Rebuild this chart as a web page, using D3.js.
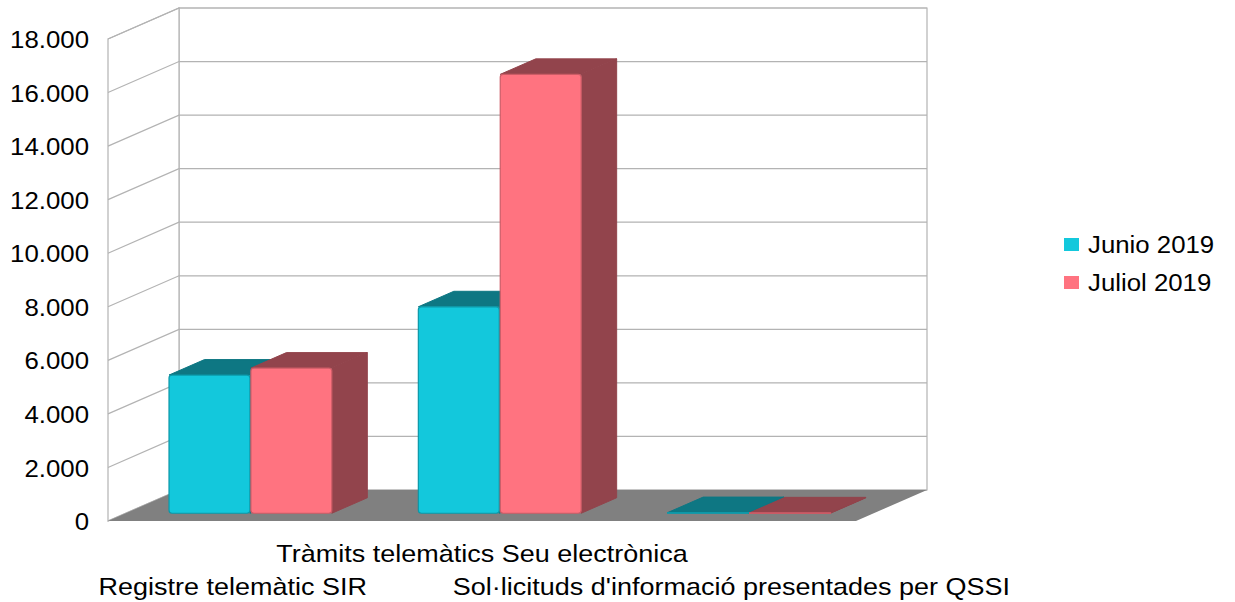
<!DOCTYPE html>
<html>
<head>
<meta charset="utf-8">
<script src="https://cdn.jsdelivr.net/npm/d3@7"></script>
<style>
  html, body { margin: 0; padding: 0; background: #fff; }
  svg { display: block; }
  text { font-family: "Liberation Sans", Arial, sans-serif; fill: #000; }
</style>
</head>
<body>
<svg id="chart" width="1235" height="602"></svg>
<script>
// ---- data ----
const categories = ["Registre telemàtic SIR", "Tràmits telemàtics Seu electrònica", "Sol·licituds d'informació presentades per QSSI"];
const series = ["Junio 2019", "Juliol 2019"];
const junio = [5160, 7710, 25];
const juliol = [5420, 16390, 15];
const yTicks = [0, 2000, 4000, 6000, 8000, 10000, 12000, 14000, 16000, 18000];
const labelRows = [1, 0, 1]; // staggered category labels

(function () {
// ---- style / layout ----
const colors = { "Junio 2019": "#13c8dc", "Juliol 2019": "#ff7380" };
const darkColors = { "Junio 2019": "#0e7783", "Juliol 2019": "#92444c" };
const edgeColors = { "Junio 2019": "#0c98a8", "Juliol 2019": "#cc5c66" };
const FS = 24, SX = 1.075, SXC = 1.125;
const depth = { dx: 71, dy: -31 };
const plotL = 108, plotR = 856, plotB = 521, plotT = 39;

const svg = d3.select("#chart");
const fmt = d3.formatLocale({ decimal: ",", thousands: ".", grouping: [3], currency: ["", "€"] }).format(",");

const y = d3.scaleLinear().domain([0, 18000]).range([plotB, plotT]);
const x0 = d3.scaleBand().domain(categories).range([plotL, plotR]);
const bw = x0.bandwidth();
const x1 = d3.scaleBand().domain(series).range([0.1735 * bw, 0.8265 * bw]).paddingInner(0.012);
const valueOf = { "Junio 2019": junio, "Juliol 2019": juliol };

const P = (x, yy, f) => [x + depth.dx * f, yy + depth.dy * f];
const poly = pts => pts.map(p => p.join(",")).join(" ");

const gridColor = "#b3b3b3";

const g = svg.append("g");
// back wall
g.append("polygon")
  .attr("points", poly([P(plotL, y(18000), 1), P(plotR, y(18000), 1), P(plotR, y(0), 1), P(plotL, y(0), 1)]))
  .attr("fill", "#fff").attr("stroke", gridColor).attr("stroke-width", 1.2);
// side wall
g.append("polygon")
  .attr("points", poly([P(plotL, y(18000), 0), P(plotL, y(18000), 1), P(plotL, y(0), 1), P(plotL, y(0), 0)]))
  .attr("fill", "#fff").attr("stroke", gridColor).attr("stroke-width", 1.2);

// gridlines
yTicks.forEach(t => {
  const a = P(plotL, y(t), 0), b = P(plotL, y(t), 1), c = P(plotR, y(t), 1);
  g.append("polyline").attr("points", poly([a, b, c]))
    .attr("fill", "none").attr("stroke", gridColor).attr("stroke-width", 1.2);
});

// floor
g.append("polygon")
  .attr("points", poly([P(plotL, y(0), 0), P(plotR, y(0), 0), P(plotR, y(0), 1), P(plotL, y(0), 1)]))
  .attr("fill", "#808080");

// bars
const f0 = 0.25, f1 = 0.75;
categories.forEach((c, i) => {
  series.forEach(s => {
    const v = valueOf[s][i];
    const xa = x0(c) + x1(s), xb = xa + x1.bandwidth();
    const yt = y(v), yb = y(0);
    const bg = g.append("g");
    bg.append("polygon")
      .attr("points", poly([P(xb, yt, f0), P(xb, yt, f1), P(xb, yb, f1), P(xb, yb, f0)]))
      .attr("fill", darkColors[s]).attr("stroke", darkColors[s]).attr("stroke-width", 1).attr("stroke-linejoin", "round");
    bg.append("polygon")
      .attr("points", poly([P(xa, yt, f0), P(xa, yt, f1), P(xb, yt, f1), P(xb, yt, f0)]))
      .attr("fill", darkColors[s]).attr("stroke", darkColors[s]).attr("stroke-width", 1).attr("stroke-linejoin", "round");
    const pf = P(xa, yt, f0);
    bg.append("rect")
      .attr("x", pf[0]).attr("y", pf[1])
      .attr("width", xb - xa).attr("height", Math.max(0.5, yb - yt))
      .attr("rx", v > 500 ? 3 : 0)
      .attr("fill", colors[s]).attr("stroke", edgeColors[s]).attr("stroke-width", 1.2);
  });
});

// y axis (front plane)
const yAxis = d3.axisLeft(y).tickValues(yTicks).tickSize(0).tickPadding(0).tickFormat(fmt);
const ax = svg.append("g").attr("transform", `translate(${plotL},0)`).call(yAxis);
ax.select(".domain").remove();
ax.selectAll("text")
  .attr("x", null).attr("dy", "0.36em")
  .attr("transform", `translate(-19,0) scale(${SX},1)`)
  .attr("fill", "#000")
  .style("font-size", FS + "px").style("font-family", '"Liberation Sans", Arial, sans-serif');

// category labels
categories.forEach((c, i) => {
  const cx = x0(c) + bw / 2;
  const by = labelRows[i] === 0 ? 562 : 595;
  svg.append("text")
    .attr("transform", `translate(${cx},${by}) scale(${SXC},1)`)
    .attr("text-anchor", "middle")
    .style("font-size", FS + "px")
    .text(c);
});

// legend
const leg = svg.append("g");
series.forEach((s, i) => {
  const ly = 245 + i * 38;
  leg.append("rect").attr("x", 1064).attr("y", ly - 7).attr("width", 15).attr("height", 13)
    .attr("fill", colors[s]);
  leg.append("text")
    .attr("transform", `translate(1088,${ly + 8}) scale(${SX},1)`)
    .style("font-size", FS + "px")
    .text(s);
});
})();
</script>
</body>
</html>
